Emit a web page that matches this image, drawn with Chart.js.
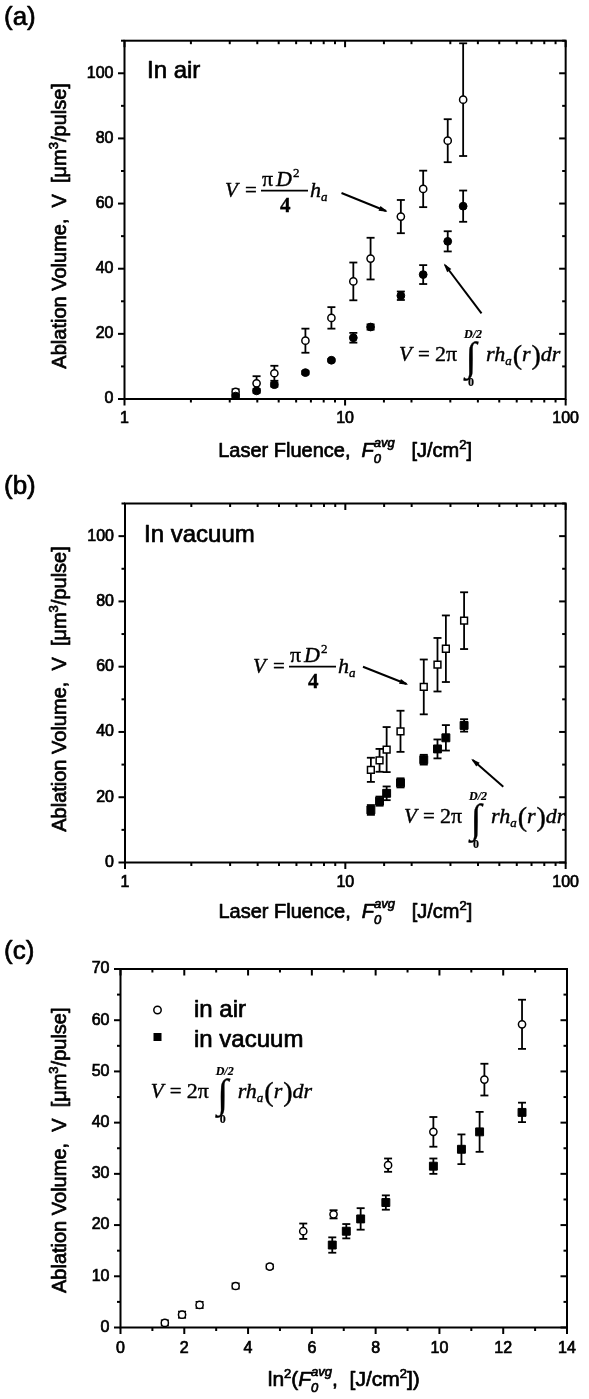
<!DOCTYPE html>
<html>
<head>
<meta charset="utf-8">
<script src="https://cdn.jsdelivr.net/npm/chart.js@4.4.0/dist/chart.umd.min.js"></script>
<style>
body{margin:0;background:#fff;}
#wrap{position:relative;width:589px;height:1399px;overflow:hidden;}
canvas{position:absolute;left:0;}
</style>
</head>
<body>
<div id="wrap">
<canvas id="ChartA" width="589" height="475" style="top:0px"></canvas>
<canvas id="ChartB" width="589" height="475" style="top:465px"></canvas>
<canvas id="ChartC" width="589" height="469" style="top:930px"></canvas>
</div>
<script>
// ---------------- data
// (a) in air : fluence and ablated volume (two ways of computing it)
var airF      = [3.19, 3.97, 4.78, 6.61, 8.67, 10.9, 13.05, 17.9, 22.6, 29.2, 34.3];
var airCyl    = [2.2, 4.8, 7.9, 17.9, 24.9, 36.1, 43.1, 56.0, 64.5, 79.3, 91.9];
var airCylErr = [0.8, 2.2, 2.3, 3.7, 3.3, 5.8, 6.4, 5.1, 5.6, 6.6, 17.3];
var airInt    = [0.9, 2.5, 4.4, 8.1, 11.9, 18.8, 22.1, 31.7, 38.2, 48.4, 59.2];
var airIntErr = [0.5, 0.6, 0.6, 0.5, 0.4, 1.5, 0.8, 1.3, 2.9, 3.1, 4.8];
// (b) in vacuum
var vacF      = [13.06, 14.3, 15.4, 17.8, 22.7, 26.2, 28.6, 34.6];
var vacCyl    = [28.4, 31.3, 34.6, 40.2, 53.8, 60.6, 65.5, 74.1];
var vacCylErr = [3.7, 3.5, 6.9, 6.3, 8.4, 8.2, 10.2, 8.7];
var vacInt    = [16.1, 18.8, 21.2, 24.4, 31.5, 34.8, 38.2, 42.0];
var vacIntErr = [1.5, 1.4, 2.1, 1.4, 1.5, 2.9, 3.9, 1.9];
// (c) ln^2 of fluence
var airLn2 = [1.39, 1.93, 2.48, 3.61, 4.68, 5.73, 6.68, 8.39, 9.81, 11.41, 12.59];
var vacLn2 = [6.64, 7.08, 7.53, 8.32, 9.81, 10.69, 11.26, 12.59];

var logLabels = [1, 10, 100];
var yLabelsAB = [0, 20, 40, 60, 80, 100];

var SANS = '"Liberation Sans", Arial, sans-serif';
var SERIF = '"Liberation Serif", "Times New Roman", serif';
var HEAVY = 0.7;   // stroke added to sans text, the scan is heavy

function pts(xs, ys){
    var out = [];
    for (var i = 0; i < xs.length; i++){
        out.push({x: xs[i], y: ys[i]});
    }
    return out;
}

function line(ctx, x1, y1, x2, y2){
    ctx.beginPath();
    ctx.moveTo(x1, y1);
    ctx.lineTo(x2, y2);
    ctx.stroke();
}

function heavyText(ctx, t, x, y, w){
    ctx.fillText(t, x, y);
    if (w){
        ctx.lineWidth = w;
        ctx.lineJoin = 'round';
        ctx.strokeText(t, x, y);
    }
}

function arrow(ctx, x1, y1, x2, y2){
    ctx.lineWidth = 2;
    line(ctx, x1, y1, x2, y2);
    var a = Math.atan2(y2 - y1, x2 - x1);
    var L = 7, W = 2.6;
    ctx.beginPath();
    ctx.moveTo(x2 + 2*Math.cos(a), y2 + 2*Math.sin(a));
    ctx.lineTo(x2 - L*Math.cos(a) + W*Math.sin(a), y2 - L*Math.sin(a) - W*Math.cos(a));
    ctx.lineTo(x2 - L*Math.cos(a) - W*Math.sin(a), y2 - L*Math.sin(a) + W*Math.cos(a));
    ctx.closePath();
    ctx.fill();
}

// rich text: segments {t, f, dy, stack}; stack = start at same x as previous segment
function richLayout(ctx, segs){
    var cur = 0, start = 0, out = [];
    for (var i = 0; i < segs.length; i++){
        var s = segs[i];
        ctx.font = s.f;
        var w = ctx.measureText(s.t).width;
        var x;
        if (s.stack){
            x = start;
            cur = Math.max(cur, start + w);
        } else {
            start = cur;
            x = cur;
            cur += w;
        }
        out.push({s: s, x: x});
    }
    return {items: out, width: cur};
}

function drawRich(ctx, segs, x, y, align){
    var lay = richLayout(ctx, segs);
    var x0 = x;
    if (align == 'center') x0 = x - lay.width/2;
    if (align == 'right') x0 = x - lay.width;
    ctx.textAlign = 'left';
    ctx.textBaseline = 'alphabetic';
    for (var i = 0; i < lay.items.length; i++){
        var it = lay.items[i];
        ctx.font = it.s.f;
        heavyText(ctx, it.s.t, x0 + it.x, y + (it.s.dy || 0), HEAVY);
    }
}

function put(ctx, t, f, x, y, w){
    ctx.font = f;
    heavyText(ctx, t, x, y, w || 0.4);
    return x + ctx.measureText(t).width;
}

var T20 = '20px ' + SANS, I20 = 'italic 20px ' + SANS, T21 = '21px ' + SANS, I21 = 'italic 21px ' + SANS;
var S13 = '13px ' + SANS, IS13 = 'italic 13px ' + SANS;

var yTitle = [
    {t: 'Ablation Volume,  V  [\u03bcm', f: T20},
    {t: '3', f: S13, dy: -8},
    {t: '/pulse]', f: T20}
];
var xTitleLog = [
    {t: 'Laser Fluence,  ', f: T20},
    {t: 'F', f: I20},
    {t: '0', f: IS13, dy: 6},
    {t: 'avg', f: IS13, dy: -10, stack: true},
    {t: '   [J/cm', f: T20},
    {t: '2', f: S13, dy: -8},
    {t: ']', f: T20}
];
var xTitleLn = [
    {t: 'ln', f: T21},
    {t: '2', f: S13, dy: -8},
    {t: '(', f: T21},
    {t: 'F', f: I21},
    {t: '0', f: IS13, dy: 6},
    {t: 'avg', f: IS13, dy: -10, stack: true},
    {t: ',  [J/cm', f: T21},
    {t: '2', f: S13, dy: -8},
    {t: '])', f: T21}
];

function drawYTitle(ctx, cy){
    ctx.save();
    ctx.translate(66, cy);
    ctx.rotate(-Math.PI/2);
    drawRich(ctx, yTitle, 0, 0, 'center');
    ctx.restore();
}

// V = pi D^2 / 4 h_a   (yl = fraction line)
function fracFormula(ctx, x0, yl){
    ctx.textAlign = 'left';
    ctx.textBaseline = 'alphabetic';
    put(ctx, 'V', 'italic 21px ' + SERIF, x0 - 2, yl + 6);
    put(ctx, '=', '21px ' + SERIF, x0 + 18, yl + 6);
    var cx = put(ctx, '\u03c0', '22px ' + SERIF, x0 + 35, yl - 5);
    cx = put(ctx, 'D', 'italic 22px ' + SERIF, cx + 3, yl - 5);
    put(ctx, '2', '13px ' + SERIF, cx + 1, yl - 14);
    ctx.lineWidth = 1.8;
    line(ctx, x0 + 34, yl, x0 + 81, yl);
    put(ctx, '4', 'bold 21px ' + SERIF, x0 + 53, yl + 21);
    cx = put(ctx, 'h', 'italic 22px ' + SERIF, x0 + 83, yl + 6);
    put(ctx, 'a', 'italic 13px ' + SERIF, cx, yl + 10);
}

// V = 2 pi int_0^{D/2} r h_a(r) dr
function intFormula(ctx, x0, y){
    ctx.textAlign = 'left';
    ctx.textBaseline = 'alphabetic';
    put(ctx, 'V', 'italic 21px ' + SERIF, x0 - 1, y);
    put(ctx, '=', '21px ' + SERIF, x0 + 18, y);
    put(ctx, '2\u03c0', '22px ' + SERIF, x0 + 35, y);
    ctx.textAlign = 'center';
    put(ctx, '\u222b', '40px ' + SERIF, x0 + 71, y + 9, 0.3);
    put(ctx, 'D/2', 'italic bold 12px ' + SERIF, x0 + 73, y - 23, 0.2);
    put(ctx, '0', 'bold 12px ' + SERIF, x0 + 71, y + 25, 0.2);
    ctx.textAlign = 'left';
    var cx = put(ctx, 'rh', 'italic 22px ' + SERIF, x0 + 86, y);
    cx = put(ctx, 'a', 'italic 13px ' + SERIF, cx, y + 4);
    cx = put(ctx, '(', '28px ' + SERIF, cx + 1, y + 3);
    cx = put(ctx, 'r', 'italic 22px ' + SERIF, cx, y);
    cx = put(ctx, ')', '28px ' + SERIF, cx + 1, y + 3);
    put(ctx, 'dr', 'italic 22px ' + SERIF, cx, y);
}

function drawErrorBars(chart){
    var ctx = chart.ctx, ys = chart.scales.y;
    ctx.save();
    ctx.strokeStyle = '#000';
    ctx.lineWidth = 1.8;
    chart.data.datasets.forEach(function(ds, i){
        if (!ds.err) return;
        var meta = chart.getDatasetMeta(i);
        meta.data.forEach(function(p, j){
            var v = ds.data[j].y, e = ds.err[j];
            var y1 = ys.getPixelForValue(v + e), y2 = ys.getPixelForValue(v - e);
            line(ctx, p.x, y1, p.x, y2);
            line(ctx, p.x - 4, y1, p.x + 4, y1);
            line(ctx, p.x - 4, y2, p.x + 4, y2);
        });
    });
    ctx.restore();
}

function drawFrame(chart){
    var ctx = chart.ctx, a = chart.chartArea;
    var xs = chart.scales.x, ys = chart.scales.y;
    ctx.save();
    ctx.strokeStyle = '#000';
    ctx.lineWidth = 2;
    ctx.strokeRect(a.left, a.top, a.right - a.left, a.bottom - a.top);
    xs.ticks.forEach(function(t){
        var px = xs.getPixelForValue(t.value);
        var len = (t.label !== '' && t.label != null) ? 6.5 : 3.5;
        line(ctx, px, a.bottom, px, a.bottom + len);
        line(ctx, px, a.top, px, a.top + len);
    });
    ys.ticks.forEach(function(t){
        var py = ys.getPixelForValue(t.value);
        var len = (t.label !== '' && t.label != null) ? 6.5 : 3.5;
        line(ctx, a.left - len, py, a.left, py);
        line(ctx, a.right - len, py, a.right, py);
    });
    ctx.restore();
}

function panelPlugin(name, extra){
    return {
        id: 'panel' + name,
        beforeDatasetsDraw: function(chart){ drawErrorBars(chart); },
        afterDraw: function(chart){
            drawFrame(chart);
            var ctx = chart.ctx;
            ctx.save();
            ctx.fillStyle = '#000';
            ctx.strokeStyle = '#000';
            extra(ctx, chart);
            ctx.restore();
        }
    };
}

function openCircle(label, data, err){
    return {label: label, data: data, err: err, pointStyle: 'circle', pointRadius: 3.6,
        pointBorderWidth: 1.5, pointBackgroundColor: '#fff', pointBorderColor: '#000', showLine: false};
}
function fullCircle(label, data, err){
    return {label: label, data: data, err: err, pointStyle: 'circle', pointRadius: 3.9,
        pointBorderWidth: 1, pointBackgroundColor: '#000', pointBorderColor: '#000', showLine: false};
}
function openSquare(label, data, err){
    return {label: label, data: data, err: err, pointStyle: 'rect', pointRadius: 4.8,
        pointBorderWidth: 1.5, pointBackgroundColor: '#fff', pointBorderColor: '#000', showLine: false};
}
function fullSquare(label, data, err){
    return {label: label, data: data, err: err, pointStyle: 'rect', pointRadius: 5.6,
        pointBorderWidth: 1, pointBackgroundColor: '#000', pointBorderColor: '#000', showLine: false};
}

function isDecade(v){
    var l = Math.log10(v);
    return Math.abs(l - Math.round(l)) < 1e-6;
}

function makeOptions(o){
    var tickFont = {family: SANS, size: 16};
    return {
        responsive: false,
        animation: false,
        events: [],
        layout: {padding: {top: o.top, right: o.right, left: 0, bottom: 0}},
        plugins: {legend: {display: false}, tooltip: {enabled: false}, title: {display: false}},
        scales: {
            x: {
                type: o.xType, min: o.xMin, max: o.xMax,
                grid: {display: false, drawTicks: false},
                border: {display: false},
                ticks: {
                    stepSize: o.xStep, autoSkip: false, maxRotation: 0, padding: o.xPad || 10,
                    color: '#000', font: tickFont, textStrokeColor: '#000', textStrokeWidth: HEAVY,
                    callback: o.xLabel
                },
                afterFit: function(s){ s.height = o.xHeight; }
            },
            y: {
                type: 'linear', min: o.yMin, max: o.yMax,
                grid: {display: false, drawTicks: false},
                border: {display: false},
                ticks: {
                    stepSize: o.yStep, autoSkip: false, padding: 11,
                    color: '#000', font: tickFont, textStrokeColor: '#000', textStrokeWidth: HEAVY,
                    callback: o.yLabel
                },
                afterFit: function(s){ s.width = o.left; }
            }
        }
    };
}

function logLabel(v){ return isDecade(v) && logLabels.indexOf(Math.round(v)) >= 0 ? String(Math.round(v)) : ''; }
function yLabelAB(v){ return yLabelsAB.indexOf(v) >= 0 ? String(v) : ''; }

function panelLetter(ctx, t, y){
    ctx.textAlign = 'left';
    ctx.textBaseline = 'alphabetic';
    ctx.font = '26px ' + SANS;
    heavyText(ctx, t, 4, y, HEAVY);
}

// ---------------- (a)
new Chart(document.getElementById('ChartA').getContext('2d'), {
    type: 'scatter',
    data: {datasets: [
        fullCircle('integral', pts(airF, airInt), airIntErr),
        openCircle('cylinder', pts(airF, airCyl), airCylErr)
    ]},
    options: makeOptions({top: 40.7, right: 17.5, left: 124.5, xHeight: 76,
        xType: 'logarithmic', xMin: 1, xMax: 100, xLabel: logLabel,
        yMin: 0, yMax: 110, yStep: 10, yLabel: yLabelAB}),
    plugins: [panelPlugin('A', function(ctx, chart){
        var a = chart.chartArea;
        panelLetter(ctx, '(a)', 25);
        ctx.font = '24px ' + SANS;
        heavyText(ctx, 'In air', 147, 78, HEAVY);
        drawYTitle(ctx, (a.top + a.bottom)/2 + 6);
        drawRich(ctx, xTitleLog, (a.left + a.right)/2, 457, 'center');
        fracFormula(ctx, 227, 190.7);
        intFormula(ctx, 400, 361);
        arrow(ctx, 341.5, 193, 386, 211);
        arrow(ctx, 481.5, 313.3, 445, 265);
    })]
});

// ---------------- (b)
new Chart(document.getElementById('ChartB').getContext('2d'), {
    type: 'scatter',
    data: {datasets: [
        fullSquare('integral', pts(vacF, vacInt), vacIntErr),
        openSquare('cylinder', pts(vacF, vacCyl), vacCylErr)
    ]},
    options: makeOptions({top: 38.5, right: 18, left: 125, xHeight: 77.5,
        xType: 'logarithmic', xMin: 1, xMax: 100, xLabel: logLabel,
        yMin: 0, yMax: 110, yStep: 10, yLabel: yLabelAB}),
    plugins: [panelPlugin('B', function(ctx, chart){
        var a = chart.chartArea;
        panelLetter(ctx, '(b)', 29);
        ctx.font = '24px ' + SANS;
        heavyText(ctx, 'In vacuum', 144, 77, HEAVY);
        drawYTitle(ctx, (a.top + a.bottom)/2 + 6);
        drawRich(ctx, xTitleLog, (a.left + a.right)/2, 453, 'center');
        fracFormula(ctx, 255, 201.7);
        intFormula(ctx, 405, 358);
        arrow(ctx, 363, 201.7, 406.5, 219);
        arrow(ctx, 503.3, 321.7, 472.7, 295);
    })]
});

// ---------------- (c)
new Chart(document.getElementById('ChartC').getContext('2d'), {
    type: 'scatter',
    data: {datasets: [
        fullSquare('in vacuum', pts(vacLn2, vacInt), vacIntErr),
        openCircle('in air', pts(airLn2, airInt), airIntErr)
    ]},
    options: makeOptions({top: 39, right: 22, left: 120.5, xHeight: 71.5, xPad: 11,
        xType: 'linear', xMin: 0, xMax: 14, xStep: 1,
        xLabel: function(v){ return v % 2 === 0 ? String(v) : ''; },
        yMin: 0, yMax: 70, yStep: 5,
        yLabel: function(v){ return v % 10 === 0 ? String(v) : ''; }}),
    plugins: [panelPlugin('C', function(ctx, chart){
        var a = chart.chartArea;
        panelLetter(ctx, '(c)', 29);
        // legend
        ctx.lineWidth = 1.5;
        ctx.beginPath();
        ctx.arc(157.5, 80, 3.7, 0, Math.PI*2);
        ctx.fillStyle = '#fff';
        ctx.fill();
        ctx.stroke();
        ctx.fillStyle = '#000';
        ctx.fillRect(153.5, 103, 8, 8);
        ctx.font = '24px ' + SANS;
        heavyText(ctx, 'in air', 194, 86.5, HEAVY);
        heavyText(ctx, 'in vacuum', 194, 116.5, HEAVY);
        intFormula(ctx, 151.7, 168);
        drawYTitle(ctx, (a.top + a.bottom)/2 + 2);
        drawRich(ctx, xTitleLn, (a.left + a.right)/2, 456, 'center');
    })]
});
</script>
</body>
</html>
